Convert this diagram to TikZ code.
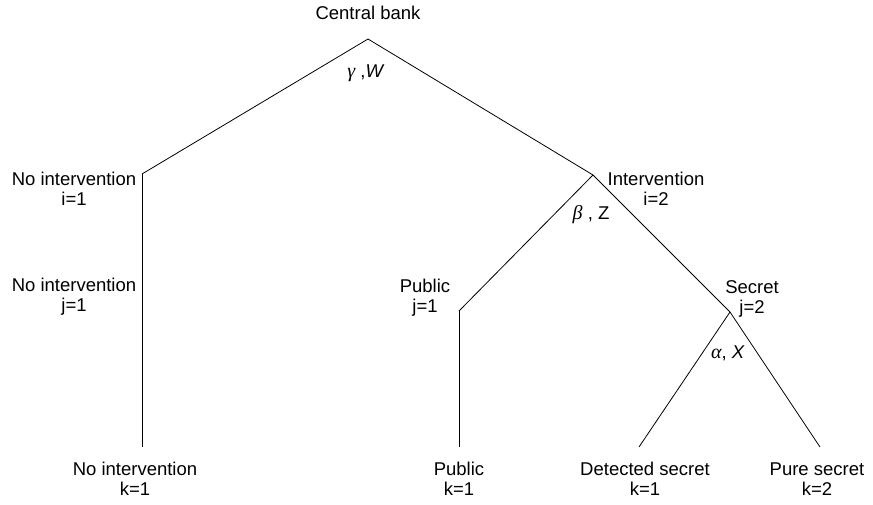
\documentclass[tikz,border=0pt]{standalone}
\usepackage{fontspec}
\setmainfont{Liberation Sans}
\newfontfamily\grk{Liberation Serif}
\newcommand{\gk}[1]{{\grk\itshape\fontsize{20}{20}\selectfont #1}}
\begin{document}
\begin{tikzpicture}[x=1pt,y=-1pt,
  lbl/.style={inner sep=0pt,align=center,font=\fontsize{18.5}{20}\selectfont},
  edge/.style={line width=0.8pt,black}]
\useasboundingbox (0,0) rectangle (873,504);
% tree points
\coordinate (root) at (368,39);
\coordinate (noint) at (142,174);
\coordinate (noint2) at (142,447);
\coordinate (interv) at (593,175);
\coordinate (pub) at (459,311);
\coordinate (pub2) at (459,447);
\coordinate (sec) at (730,312);
\coordinate (det) at (639,447);
\coordinate (pure) at (820,447);
% connectors
\draw[edge] (root) -- (noint);
\draw[edge] (root) -- (interv);
\draw[edge] (noint) -- (noint2);
\draw[edge] (interv) -- (pub);
\draw[edge] (interv) -- (sec);
\draw[edge] (pub) -- (pub2);
\draw[edge] (sec) -- (det);
\draw[edge] (sec) -- (pure);
% labels
\node[lbl] (lcb) at (368,13) {Central bank};
\node[lbl] (lgw) at (366,73) {\gk{γ} ,\textit{W}};
\node[lbl] (lni) at (74,189) {No intervention\\i=1};
\node[lbl] (lnj) at (74,297) {No intervention\\j=1};
\node[lbl] (lin) at (656,189) {Intervention\\i=2};
\node[lbl] (lbz) at (591,215) {\gk{β} , Z};
\node[lbl] (lpj) at (425,298) {Public\\j=1};
\node[lbl] (lsj) at (752,299) {Secret\\j=2};
\node[lbl] (lax) at (728,353) {\gk{α}, \textit{X}};
\node[lbl] (lbn) at (135,479) {No intervention\\k=1};
\node[lbl] (lbp) at (459,479) {Public\\k=1};
\node[lbl] (lbd) at (645,479) {Detected secret\\k=1};
\node[lbl] (lbs) at (817,479) {Pure secret\\k=2};
\end{tikzpicture}
\end{document}
